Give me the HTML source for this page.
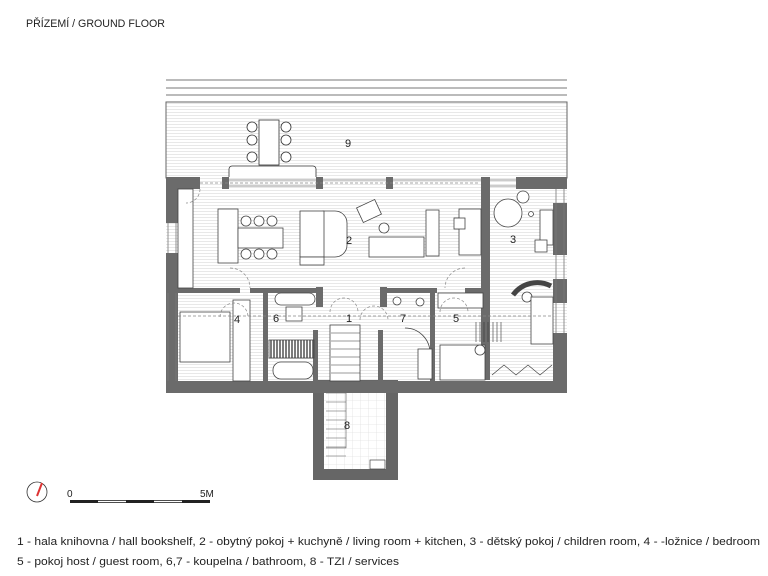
<!DOCTYPE html>
<html><head><meta charset="utf-8"><style>
html,body{margin:0;padding:0;background:#fff}
svg{display:block}
text{font-family:"Liberation Sans","DejaVu Sans",sans-serif;fill:#222}
</style></head><body>
<svg width="768" height="576" viewBox="0 0 768 576" xmlns="http://www.w3.org/2000/svg">
<defs>
<pattern id="h" width="6" height="3" patternUnits="userSpaceOnUse"><rect width="6" height="3" fill="#fff"/><line x1="0" y1="1.5" x2="6" y2="1.5" stroke="#e8e8e8" stroke-width="1"/></pattern>
<pattern id="g" width="8" height="8" patternUnits="userSpaceOnUse"><rect width="8" height="8" fill="#fff"/><path d="M0 0H8M0 0V8" stroke="#e2e2e2" stroke-width="0.8"/></pattern>
<pattern id="s" width="3" height="6" patternUnits="userSpaceOnUse"><rect width="3" height="6" fill="#fff"/><line x1="1" y1="0" x2="1" y2="6" stroke="#444" stroke-width="1.4"/></pattern>
</defs>
<text x="26" y="27" font-size="11" textLength="139" lengthAdjust="spacingAndGlyphs">PŘÍZEMÍ / GROUND FLOOR</text>

<g stroke="#777" stroke-width="1"><line x1="166" y1="80" x2="567" y2="80"/><line x1="166" y1="88" x2="567" y2="88"/><line x1="166" y1="95" x2="567" y2="95"/></g>
<rect x="166" y="102" width="401" height="76" fill="url(#h)" stroke="#666"/>
<g fill="#fff" stroke="#333" stroke-width="0.8">
<rect x="259" y="120" width="20" height="45"/>
<circle cx="252" cy="127" r="5"/><circle cx="252" cy="140" r="5"/><circle cx="252" cy="157" r="5"/>
<circle cx="286" cy="127" r="5"/><circle cx="286" cy="140" r="5"/><circle cx="286" cy="157" r="5"/>
<rect x="229" y="166" width="87" height="30" rx="3"/>
</g>
<text x="345" y="147" font-size="11">9</text>

<rect x="166" y="177" width="401" height="216" fill="url(#h)"/>
<rect x="313" y="380" width="85" height="100" fill="#666"/>
<rect x="324" y="384" width="62" height="85" fill="url(#g)"/>
<g fill="none" stroke="#555" stroke-width="0.6"><path d="M326 393h20M326 402h20M326 411h20M326 420h20M326 429h20M326 438h20M326 447h20M326 456h20"/><path d="M346 388v60h-20"/></g>

<g fill="#6b6b6b">
<rect x="166" y="177" width="34" height="12"/>
<rect x="166" y="177" width="12" height="46"/>
<rect x="166" y="253" width="12" height="128"/>
<rect x="166" y="381" width="401" height="12"/>
<rect x="222" y="177" width="7" height="12"/>
<rect x="316" y="177" width="7" height="12"/>
<rect x="386" y="177" width="7" height="12"/>
<rect x="481" y="177" width="9" height="203"/>
<rect x="516" y="177" width="51" height="12"/>
<rect x="553" y="203" width="14" height="52"/>
<rect x="553" y="279" width="14" height="24"/>
<rect x="553" y="333" width="14" height="48"/>
<rect x="166" y="310" width="12" height="50"/>
<rect x="178" y="288" width="62" height="5"/>
<rect x="250" y="288" width="66" height="5"/>
<rect x="316" y="287" width="7" height="20"/>
<rect x="380" y="287" width="7" height="20"/>
<rect x="387" y="288" width="50" height="5"/>
<rect x="465" y="288" width="16" height="5"/>
<rect x="263" y="290" width="5" height="91"/>
<rect x="313" y="330" width="5" height="51"/>
<rect x="378" y="330" width="5" height="51"/>
<rect x="430" y="290" width="5" height="91"/>
</g>
<g stroke="#777" fill="none" stroke-width="0.8">
<line x1="229" y1="180" x2="316" y2="180"/><line x1="229" y1="186" x2="316" y2="186"/>
<line x1="323" y1="180" x2="386" y2="180"/><line x1="393" y1="180" x2="481" y2="180"/>
<line x1="490" y1="180" x2="516" y2="180"/><line x1="490" y1="186" x2="516" y2="186"/>
<line x1="168" y1="223" x2="168" y2="253"/><line x1="176" y1="223" x2="176" y2="253"/>
<line x1="556" y1="189" x2="556" y2="333"/><line x1="564" y1="189" x2="564" y2="333"/>
<line x1="168" y1="293" x2="168" y2="381"/><line x1="176" y1="293" x2="176" y2="381"/>
</g>
<g fill="#fff" stroke="#444" stroke-width="0.8">
<rect x="178" y="189" width="15" height="99"/>
<rect x="218" y="209" width="20" height="54"/>
<rect x="238" y="228" width="45" height="20"/>
<circle cx="246" cy="221" r="5"/><circle cx="259" cy="221" r="5"/><circle cx="272" cy="221" r="5"/>
<circle cx="246" cy="254" r="5"/><circle cx="259" cy="254" r="5"/><circle cx="272" cy="254" r="5"/>
<path d="M323 211h12a12 12 0 0 1 12 12v22a12 12 0 0 1 -12 12h-12z"/>
<rect x="300" y="211" width="24" height="46"/>
<rect x="300" y="257" width="24" height="8"/>
<rect x="359" y="203" width="20" height="16" transform="rotate(-25 369 211)"/>
<circle cx="384" cy="228" r="5"/>
<rect x="369" y="237" width="55" height="20"/>
<rect x="426" y="210" width="13" height="46"/>
<rect x="459" y="209" width="22" height="46"/>
<rect x="454" y="218" width="11" height="11"/>
<circle cx="508" cy="213" r="14"/><circle cx="523" cy="197" r="6"/><circle cx="531" cy="214" r="2.5"/>
<rect x="540" y="210" width="13" height="35"/>
<rect x="535" y="240" width="12" height="12"/>
<path d="M513 295a30 30 0 0 1 38 -9" stroke-width="5" stroke="#444" fill="none"/>
<circle cx="527" cy="297" r="5"/>
<rect x="531" y="297" width="22" height="47"/>
<rect x="180" y="312" width="50" height="50"/>
<rect x="233" y="300" width="17" height="81"/>
<rect x="275" y="293" width="40" height="12" rx="6"/>
<rect x="286" y="307" width="16" height="14"/>
<rect x="269" y="340" width="45" height="18" fill="url(#s)"/>
<rect x="273" y="362" width="40" height="17" rx="8"/>
<rect x="330" y="325" width="30" height="56"/>
<circle cx="397" cy="301" r="4"/><circle cx="420" cy="302" r="4"/>
<path d="M405 328a25 25 0 0 1 25 25" fill="none"/>
<rect x="418" y="349" width="14" height="30"/>
<rect x="438" y="293" width="45" height="15"/>
<rect x="440" y="345" width="45" height="35"/>
<circle cx="480" cy="350" r="5"/>
</g>
<g stroke="#333" stroke-width="0.6"><path d="M476 322v20M480 322v20M484 322v20M488 322v20M493 322v20M497 322v20M501 322v20"/><path d="M331 333h29M331 341h29M331 349h29M331 357h29M331 365h29M331 373h29"/>
<path d="M492 375l12-10 12 10 12-10 12 10 12-10" fill="none"/></g>
<g fill="none" stroke="#888" stroke-width="0.7" stroke-dasharray="3 2">
<path d="M230 268a20 20 0 0 1 20 20"/><path d="M465 268a20 20 0 0 0 -20 20"/>
<path d="M220 317a14 14 0 0 1 28 0"/><path d="M330 312a14 14 0 0 1 28 0"/>
<path d="M360 320a14 14 0 0 1 28 0"/><path d="M440 312a14 14 0 0 1 28 0"/>
<path d="M200 189a14 14 0 0 1 -14 14"/><line x1="178" y1="316" x2="553" y2="316"/>
<line x1="200" y1="183" x2="480" y2="183"/>
</g>
<text x="346" y="244" font-size="11">2</text>
<text x="510" y="243" font-size="11">3</text>
<text x="234" y="323" font-size="11">4</text>
<text x="273" y="322" font-size="11">6</text>
<text x="346" y="322" font-size="11">1</text>
<text x="400" y="322" font-size="11">7</text>
<text x="453" y="322" font-size="11">5</text>
<text x="344" y="429" font-size="11">8</text>
<rect x="370" y="460" width="15" height="9" fill="#fff" stroke="#444" stroke-width="0.7"/>

<circle cx="37" cy="492" r="10" fill="#fff" stroke="#333" stroke-width="0.8"/>
<line x1="37" y1="496" x2="42" y2="483" stroke="#d33" stroke-width="2"/>
<text x="67" y="497" font-size="10">0</text>
<text x="200" y="497" font-size="10">5M</text>
<rect x="70" y="500" width="140" height="3" fill="#222"/>
<rect x="98" y="500.8" width="28" height="1.4" fill="#fff"/><rect x="154" y="500.8" width="28" height="1.4" fill="#fff"/>

<text x="17" y="545" font-size="11" textLength="743" lengthAdjust="spacingAndGlyphs">1 - hala knihovna / hall bookshelf, 2 - obytný pokoj + kuchyně / living room + kitchen, 3 - dětský pokoj / children room, 4 - -ložnice / bedroom</text>
<text x="17" y="565" font-size="11" textLength="382" lengthAdjust="spacingAndGlyphs">5 - pokoj host / guest room, 6,7 - koupelna / bathroom, 8 - TZI / services</text>
</svg>
</body></html>
